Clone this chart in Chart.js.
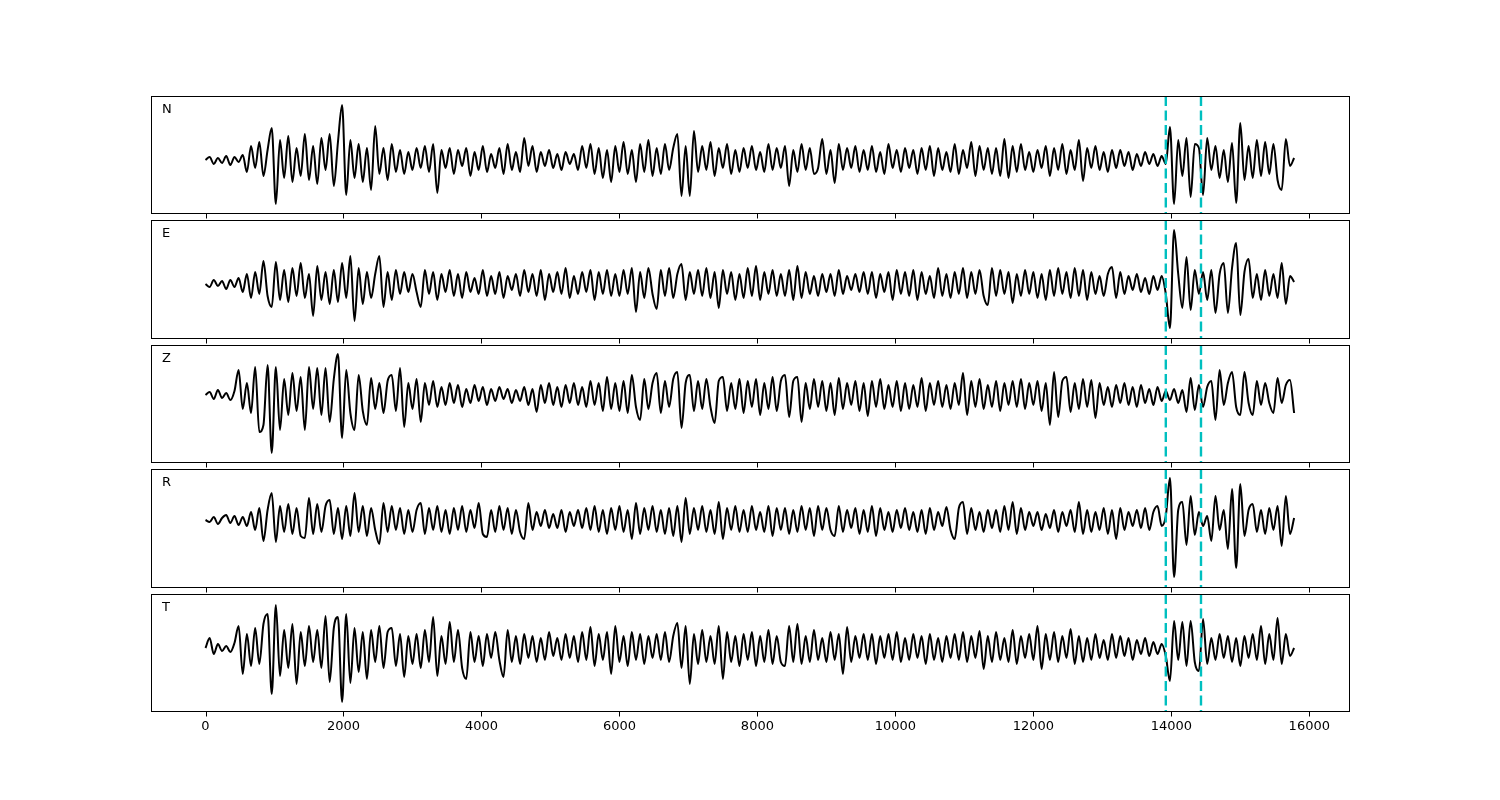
<!DOCTYPE html>
<html>
<head>
<meta charset="utf-8">
<title>Three-component traces</title>
<script src="https://cdn.jsdelivr.net/npm/chart.js@4.4.1/dist/chart.umd.min.js"></script>
<style>
  body { margin: 0; background: #fff; width: 1500px; height: 800px; overflow: hidden; position: relative; font-family: "DejaVu Sans", sans-serif; }
  .panel { position: absolute; left: 141px; }
  .comp { position: absolute; left: 162px; font-size: 13px; color: #000; line-height: 1; }
</style>
</head>
<body>
<script>
// sample spacing of the traces below (x units)
const STEP = 60;

const components = ['N', 'E', 'Z', 'R', 'T'];
const xTicks = [0, 2000, 4000, 6000, 8000, 10000, 12000, 14000, 16000];
const picks = [13920, 14430];

// amplitudes, one value every STEP samples
const traceN = [
  0, 3, -4, 2, -3, 4, -5, 3, -2, 5,
  -12, 14, -8, 18, -16, 10, 32, -44, 20, -18,
  24, -22, 12, -16, 26, -20, 14, -24, 22, -10,
  26, -26, 18, 55, -35, 20, -18, 16, -22, 12,
  -30, 34, -14, 12, -20, 16, -12, 10, -14, 8,
  -10, 12, -8, 14, -12, 16, -33, 10, -8, 12,
  -14, 10, -6, 12, -16, 8, -10, 14, -12, 6,
  -8, 12, -14, 16, -10, 8, -12, 22, -6, 14,
  -12, 8, -6, 10, -8, 6, -10, 8, -4, 6,
  -10, 14, -8, 16, -14, 12, -18, 10, -22, 14,
  -12, 18, -14, 10, -22, 16, -12, 20, -16, 12,
  -14, 16, -10, 12, 26, -36, 14, -36, 29, -12,
  14, -10, 18, -16, 12, -8, 16, -14, 10, -12,
  12, -8, 14, -10, 8, -12, 16, -10, 12, -8,
  14, -26, 10, -12, 16, -10, 12, -14, -8, 21,
  -14, 10, -23, 16, -10, 12, -8, 14, -12, 10,
  -10, 14, -12, 8, -14, 16, -8, 10, -12, 12,
  -8, 10, -14, 12, -10, 14, -16, 12, -10, 8,
  -12, 16, -14, 10, -8, 18, -16, 14, -10, 12,
  -14, 12, -16, 21, -18, 14, -12, 16, -10, 8,
  -12, 10, -8, 14, -16, 12, -10, 16, -14, 10,
  -10, 20, -21, 12, -8, 14, -10, 8, -12, 10,
  -8, 10, -6, 8, -10, 6, -6, 8, -4, 6,
  -6, 4, -4, 33, -44, 20, -16, 22, -37, 16,
  12, -35, 22, -10, 14, -18, 10, -22, 17, -43,
  37, -20, 14, -18, 20, -16, 18, -14, 16, -20,
  -30, 21, -6, 2
];

const traceE = [
  0, -3, 4, -2, 3, -5, 4, -3, 6, -8,
  10, -14, 12, -10, 23, -12, -23, 22, -16, 14,
  -18, 16, -12, 21, -14, 10, -32, 18, -16, 12,
  -20, 14, -18, 21, -14, 28, -37, 16, -20, 12,
  -14, 10, 28, -23, 12, -16, 14, -10, 12, -8,
  10, -8, -23, 14, -10, 12, -16, 10, -8, 14,
  -12, 10, -14, 12, -8, 6, -10, 14, -12, 8,
  -10, 12, -14, 8, -6, 10, -12, 14, -8, 10,
  -12, 14, -16, 10, -8, 12, -10, 16, -14, 8,
  -10, 12, -8, 14, -16, 12, -10, 14, -12, 10,
  -12, 14, -10, 16, -28, 12, -14, 16, -10, -25,
  14, -12, 16, -14, 10, 20, -16, 12, -10, 14,
  -12, 16, -14, 12, -24, 14, -10, 12, -16, 10,
  -14, 16, -12, 18, -16, 12, -10, 14, -12, 10,
  -12, 14, -16, 18, -14, 12, -10, 8, -12, 10,
  -8, 10, -12, 14, -10, 8, -6, 10, -8, 12,
  -10, 12, -14, 10, -8, 12, -16, 14, -10, 12,
  -12, 14, -16, 12, -10, 8, -14, 16, -12, 10,
  -14, 12, -10, 16, -14, 12, -10, 14, -12, -21,
  16, -12, 14, -10, 12, -19, 10, -12, 14, -10,
  12, -14, 10, -16, 14, -12, 16, -10, 12, -14,
  16, -12, 14, -16, 12, -10, 8, -12, 10, 17,
  -14, 12, -10, 8, -6, 10, -8, 6, -10, 8,
  -6, 8, -10, -44, 54, 10, -24, 27, -26, 14,
  -10, 12, -16, 14, -29, 10, 21, -29, 16, 41,
  -31, 12, 25, -14, 10, -16, 14, -12, 10, -14,
  21, -20, 8, 2
];

const traceZ = [
  0, 3, -4, 5, -3, 2, -5, 4, 25, -14,
  12, -18, 28, -37, -30, 30, -58, 28, -35, 16,
  -20, 22, -16, 18, -35, 28, -14, 27, -20, 27,
  -27, 16, 41, -43, 25, -18, -35, 20, -16, -30,
  17, -14, 12, -18, 14, 20, -16, 27, -32, 12,
  -14, 16, -27, 12, -10, 14, -12, 8, -10, 12,
  -8, 10, -12, 6, -8, 10, -6, 8, -10, 6,
  -6, 8, -4, 6, -8, 5, -6, 8, -10, 6,
  -17, 10, -8, 12, -10, 8, -12, 10, -8, 12,
  -10, 8, -12, 14, -10, 12, -16, 18, -14, 12,
  -16, 14, -18, 20, -12, -25, 16, -14, 12, 22,
  -18, 14, -12, 16, 23, -33, 12, 20, -16, 14,
  -14, 16, -12, -28, 14, 18, -16, 12, -14, 16,
  -18, 14, -12, 16, -20, 12, -14, 18, -16, 14,
  20, -22, 14, 18, -27, 12, -14, 16, -12, 14,
  -16, 12, -20, 17, -14, 12, -10, 14, -16, 12,
  -21, 14, -12, 16, -14, 10, -12, 14, -16, 12,
  -14, 10, -12, 17, -16, 12, -10, 14, -12, 10,
  -14, 12, -10, 22, -20, 14, -12, 16, -14, 10,
  -12, 14, -16, 12, -10, 14, -12, 16, -14, 12,
  -10, 14, -16, 12, -30, 23, -22, 14, 18, -17,
  12, -14, 16, -12, 15, -23, 12, -10, 8, -12,
  10, -8, 12, -10, 8, -12, 10, -8, 6, -10,
  8, -6, 4, -5, 6, -8, 5, -17, 17, -15,
  10, -12, 8, 14, -25, 25, -10, 12, 23, -12,
  -20, 23, -8, -20, 14, -10, 12, -8, -18, 17,
  -8, 10, 15, -18
];

const traceR = [
  0, -2, 3, -4, 2, 5, -3, 4, -5, 3,
  -6, 8, -10, 12, -21, 10, 27, -22, 14, -12,
  16, -14, 12, -16, -18, 22, -14, 16, -12, 14,
  20, -14, 12, -19, 14, -16, 27, -12, 14, -16,
  12, -10, -24, 17, -12, 14, -10, 12, -14, 10,
  -12, 10, 17, -14, 12, -10, 14, -12, 10, -14,
  12, -10, 14, -12, 10, -8, 17, -14, -17, 10,
  -12, 14, -10, 12, -14, 10, -12, -19, 17, -10,
  8, -6, 10, -8, 6, -8, 10, -12, 8, -6,
  10, -8, 12, -10, 14, -12, 10, -14, 12, -10,
  14, -12, 10, -19, 17, -14, 12, -10, 14, -12,
  10, -14, 12, -16, 14, -22, 22, -14, 12, -10,
  14, -12, 10, -14, 18, -19, 12, -10, 14, -12,
  10, -12, 14, -10, 8, -12, 14, -16, 12, -10,
  12, -14, 10, -12, 14, -10, 12, -16, 14, -10,
  12, -10, -16, 14, -12, 10, -8, 12, -14, 10,
  -12, 14, -16, 12, -10, 8, -12, 10, -8, 12,
  -10, 8, -12, 10, -14, 12, -10, 8, -6, 13,
  -10, -19, 12, 18, -14, 12, -10, 8, -12, 10,
  -8, 10, -12, 14, -10, 18, -14, 12, -10, 8,
  -6, 8, -10, 6, -8, 10, -12, 8, -6, 10,
  -12, 18, -14, 10, -12, 8, -10, 12, -14, 10,
  -19, 12, -10, 8, -6, 10, -8, 12, -10, 8,
  14, -6, 4, 42, -57, 10, 18, -25, 24, -15,
  8, -6, 4, -21, 24, -10, 10, -29, 31, -48,
  36, -16, 10, 16, -12, 10, -14, 12, -10, 14,
  -26, 24, -14, 2
];

const traceT = [
  0, 10, -6, 4, -3, 2, -4, 5, 22, -26,
  14, -18, 20, -16, 24, 34, -46, 43, -28, 18,
  -20, 24, -36, 16, -18, 22, -14, 18, -20, 32,
  -34, 20, 31, -54, 34, -35, 20, -24, 16, -31,
  18, -14, 22, -20, 16, 20, -18, 14, -29, 12,
  -16, 14, -20, 18, -14, 31, -28, 12, -16, 26,
  -14, 18, -20, -31, 16, -14, 12, -18, 14, -10,
  16, -12, -29, 18, -14, 12, -16, 14, -10, 12,
  -14, 10, -12, 16, -8, 10, -12, 14, -10, 12,
  -14, 16, -12, 21, -18, 14, -12, 16, -26, 22,
  -14, 12, -18, 16, -12, 14, -16, 12, -10, 14,
  -12, 16, -14, 12, 25, -20, 22, -36, 14, -16,
  18, -14, 12, -16, 22, -31, 16, -14, 12, -18,
  14, -12, 16, -18, 12, -14, 18, -16, 12, -14,
  -18, 22, -14, 24, -16, 12, -14, 18, -12, 10,
  -14, 16, -12, 14, -26, 21, -14, 12, -10, 14,
  -12, 14, -16, 12, -10, 14, -12, 16, -14, 10,
  -12, 14, -10, 12, -16, 14, -12, 10, -14, 12,
  -10, 14, -12, 16, -14, 12, -10, 17, -21, 12,
  -14, 16, -12, 10, -14, 18, -16, 12, -10, 14,
  -12, 22, -21, 14, -12, 16, -14, 12, -10, 19,
  -16, 12, -14, 10, -12, 14, -10, 8, -12, 14,
  -10, 12, -8, 10, -12, 8, -6, 10, -8, 6,
  -6, 4, -8, -33, 27, -12, 26, -18, 27, -14,
  -23, 29, -16, 10, -12, 14, -10, 12, -14, 10,
  -18, 12, -10, 14, -12, 22, -16, 14, -12, 30,
  -16, 14, -8, 0
];

const traces = [traceN, traceE, traceZ, traceR, traceT];

// panel boxes (px) and vertical limits of each axes
const panels = [
  { top: 96,  height: 118, ymin: -54, ymax: 64 },
  { top: 220, height: 119, ymin: -55, ymax: 64 },
  { top: 345, height: 118, ymin: -68, ymax: 50 },
  { top: 469, height: 119, ymin: -68, ymax: 51 },
  { top: 594, height: 118, ymin: -64, ymax: 54 }
];
const X_MIN = -790, X_MAX = 16590;
const PAD = 10, LABEL_PAD = 40;

// frame, outward ticks and (on the last panel) tick labels
const framePlugin = {
    id: 'frame',
    afterDraw(chart, args, opts) {
        const ctx = chart.ctx;
        const a = chart.chartArea;
        const xs = chart.scales.x;
        ctx.save();
        ctx.strokeStyle = '#000';
        ctx.lineWidth = 1;
        const l = Math.round(a.left) + 0.5, t = Math.round(a.top) + 0.5;
        const r = Math.round(a.right) - 0.5, b = Math.round(a.bottom) - 0.5;
        ctx.strokeRect(l, t, r - l, b - t);
        ctx.beginPath();
        xTicks.forEach(v => {
            const px = Math.round(xs.getPixelForValue(v)) + 0.5;
            ctx.moveTo(px, b);
            ctx.lineTo(px, b + 5);
        });
        ctx.stroke();
        if (opts.labels) {
            ctx.fillStyle = '#000';
            ctx.font = '13px "DejaVu Sans"';
            ctx.textAlign = 'center';
            ctx.textBaseline = 'top';
            xTicks.forEach(v => {
                ctx.fillText(String(v), xs.getPixelForValue(v), b + 9);
            });
        }
        ctx.restore();
    }
};

panels.forEach((p, i) => {
    const last = i === panels.length - 1;
    const bottomPad = last ? LABEL_PAD : PAD;

    const box = document.createElement('div');
    box.className = 'panel';
    box.style.top = (p.top - PAD) + 'px';
    const canvas = document.createElement('canvas');
    canvas.width = 1199 + 2 * PAD;
    canvas.height = p.height + PAD + bottomPad;
    box.appendChild(canvas);
    document.body.appendChild(box);

    const label = document.createElement('div');
    label.className = 'comp';
    label.style.top = (p.top + 6) + 'px';
    label.textContent = components[i];
    document.body.appendChild(label);

    const wave = traces[i].map((v, k) => ({ x: k * STEP, y: v }));
    const pickSets = picks.map(t => ({
        data: [{ x: t, y: p.ymax }, { x: t, y: p.ymin }],
        borderColor: '#00bfbf',
        borderWidth: 2.4,
        borderDash: [10, 4.5],
        pointRadius: 0
    }));

    new Chart(canvas, {
        type: 'line',
        data: {
            datasets: [
                ...pickSets,
                {
                    data: wave,
                    borderColor: '#000',
                    borderWidth: 2,
                    pointRadius: 0,
                    cubicInterpolationMode: 'monotone'
                }
            ]
        },
        options: {
            responsive: false,
            animation: false,
            events: [],
            layout: { padding: { left: PAD, right: PAD, top: PAD, bottom: bottomPad } },
            plugins: {
                legend: { display: false },
                tooltip: { enabled: false },
                frame: { labels: last }
            },
            scales: {
                x: { type: 'linear', min: X_MIN, max: X_MAX, display: false },
                y: { min: p.ymin, max: p.ymax, display: false }
            }
        },
        plugins: [framePlugin]
    });
});
</script>
</body>
</html>
